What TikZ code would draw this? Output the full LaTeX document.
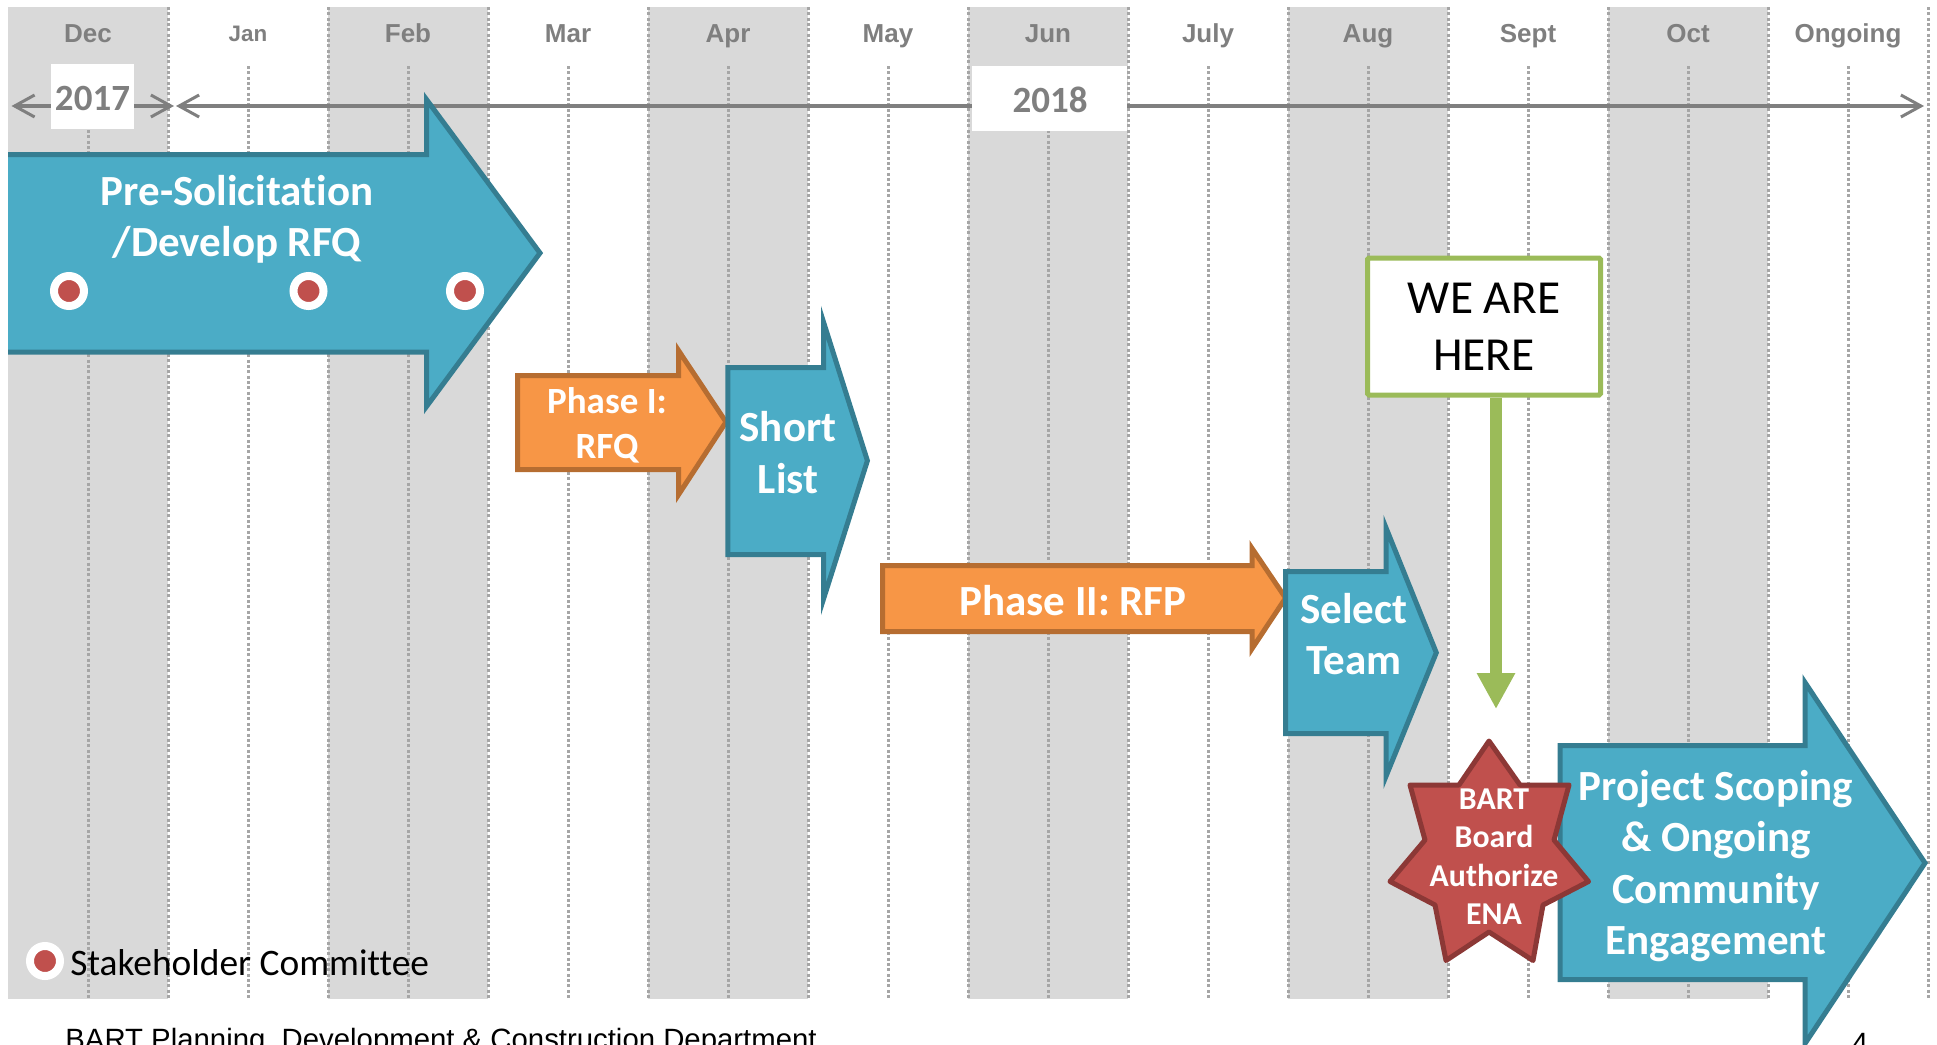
\documentclass[tikz,border=0pt]{standalone}
\usepackage{fontspec}
\setmainfont{Carlito}[Ligatures=CommonOff]
\newfontfamily\arialf{Liberation Sans}
\usetikzlibrary{arrows.meta}
\definecolor{bandgray}{HTML}{D9D9D9}
\definecolor{dotgray}{HTML}{A6A6A6}
\definecolor{txtgray}{HTML}{7F7F7F}
\definecolor{blueF}{HTML}{4BACC6}
\definecolor{blueD}{HTML}{357D91}
\definecolor{orangeF}{HTML}{F79646}
\definecolor{orangeD}{HTML}{B66D31}
\definecolor{redF}{HTML}{C0504D}
\definecolor{redD}{HTML}{8C3836}
\definecolor{greenF}{HTML}{9BBB59}
\tikzset{
  band/.style={fill=bandgray,draw=none},
  dotline/.style={draw=dotgray,line width=1.5pt,dash pattern=on 1.5pt off 1.17pt},
  month/.style={anchor=base,font=\arialf\bfseries\fontsize{13}{15}\selectfont,text=txtgray,inner sep=0pt},
  yearbox/.style={fill=white,text=txtgray,inner sep=0pt,font=\bfseries\fontsize{18.5}{22}\selectfont},
  tline/.style={draw=txtgray,line width=1.75pt,{Straight Barb[length=10pt,width=11pt,line width=1.5pt]}-{Straight Barb[length=10pt,width=11pt,line width=1.5pt]}},
  bluearrow/.style={fill=blueF,draw=blueD,line width=2.5pt,miter limit=12},
  orangearrow/.style={fill=orangeF,draw=orangeD,line width=2.5pt,miter limit=12},
  whitetext/.style={text=white,inner sep=0pt,align=center,font=\bfseries\fontsize{21.5}{25.75}\selectfont},
  smalltext/.style={text=white,inner sep=0pt,align=center,font=\bfseries\fontsize{18.5}{22.5}\selectfont},
  startext/.style={text=white,inner sep=0pt,align=center,font=\bfseries\fontsize{15.9}{19.25}\selectfont},
  sdot/.style={circle,fill=redF,draw=white,line width=4pt,minimum size=15pt,inner sep=0pt},
  herebox/.style={draw=greenF,fill=white,line width=2.5pt,rounded corners=0.75pt,minimum width=116.5pt,minimum height=68.5pt,inner sep=0pt,align=center,font=\fontsize{23.7}{28.5}\selectfont,text=black},
  herearrow/.style={draw=greenF,line width=6pt,-{Triangle[length=18pt,width=18pt]}},
}
\begin{document}
\begin{tikzpicture}[x=0.5pt,y=-0.5pt]
\useasboundingbox (0,0) rectangle (1937,1044);
% bands
\foreach \x in {8,328,648,968,1288,1608}{
  \fill[band] (\x,7) rectangle (\x+160,999);
}
% band edge dotted lines
\foreach \x in {168,328,488,648,808,968,1128,1288,1448,1608,1768,1928}{
  \draw[dotline] (\x,7) -- (\x,999);
}
% month centre dotted lines
\foreach \x in {88,248,408,568,728,888,1048,1208,1368,1528,1688,1848}{
  \draw[dotline] (\x,66) -- (\x,999);
}
% months
\node[month] (mdec) at (88,42) {Dec};
\node[month,font=\arialf\bfseries\fontsize{11.2}{13}\selectfont] (mjan) at (248,41) {Jan};
\node[month] (mfeb) at (408,42) {Feb};
\node[month] (mmar) at (568,42) {Mar};
\node[month] (mapr) at (728,42) {Apr};
\node[month] (mmay) at (888,42) {May};
\node[month] (mjun) at (1048,42) {Jun};
\node[month] (mjul) at (1208,42) {July};
\node[month] (maug) at (1368,42) {Aug};
\node[month] (msep) at (1528,42) {Sept};
\node[month] (moct) at (1688,42) {Oct};
\node[month] (mong) at (1848,42) {Ongoing};
% timeline
\coordinate (ta) at (11.5,106);
\coordinate (tb) at (174,106);
\coordinate (tc) at (176,106);
\coordinate (td) at (1924,106);
\draw[tline] (ta) -- (tb);
\draw[tline] (tc) -- (td);
\node[yearbox,minimum width=41.5pt,minimum height=32.5pt] (y17box) at (92.5,96.5) {};
\node[text=txtgray,inner sep=0pt,font=\bfseries\fontsize{18.5}{22}\selectfont] (y17) at (92.5,98.5) {2017};
\node[yearbox,minimum width=77.5pt,minimum height=32.5pt] (y18box) at (1049.5,98.5) {};
\node[text=txtgray,inner sep=0pt,font=\bfseries\fontsize{18.5}{22}\selectfont] (y18) at (1050,100) {2018};
% Pre-solicitation arrow
\fill[blueF] (8,154.5) -- (426.5,154.5) -- (426.5,99.5) -- (540,253) -- (426.5,406.5) -- (426.5,352) -- (8,352) -- cycle;
\draw[bluearrow,fill=none] (8,154.5) -- (426.5,154.5) -- (426.5,99.5) -- (540,253) -- (426.5,406.5) -- (426.5,352) -- (8,352);
\node[whitetext] (pre) at (237,219.5) {Pre-Solicitation\\/Develop RFQ};
\node[sdot] (d1) at (69,291) {};
\node[sdot] (d2) at (308.5,291) {};
\node[sdot] (d3) at (465,291) {};
% Phase I
\draw[orangearrow] (517.5,375.5) -- (678.5,375.5) -- (678.5,350.5) -- (726,422) -- (678.5,494.7) -- (678.5,469.5) -- (517.5,469.5) -- cycle;
\node[smalltext] (ph1) at (607,425.5) {Phase I:\\RFQ};
% Short list
\draw[bluearrow] (727.8,367.5) -- (823.5,367.5) -- (823.5,322) -- (867.4,460.7) -- (823.5,599) -- (823.5,554.5) -- (727.8,554.5) -- cycle;
\node[whitetext] (short) at (788,452.5) {Short\\List};
% Phase II
\draw[orangearrow] (882.5,565.5) -- (1252,565.5) -- (1252,548.3) -- (1285.6,598) -- (1252,648.7) -- (1252,631.5) -- (882.5,631.5) -- cycle;
\node[whitetext] (ph2) at (1073,601) {Phase II: RFP};
% Select team
\draw[bluearrow] (1285.5,571.5) -- (1386,571.5) -- (1386,527.8) -- (1436.3,652.7) -- (1386,776.2) -- (1386,733.5) -- (1285.5,733.5) -- cycle;
\node[whitetext] (sel) at (1353.7,634) {Select\\Team};
% Project arrow
\draw[bluearrow] (1560,745.5) -- (1805,745.5) -- (1805,682.5) -- (1925,863) -- (1805,1043.5) -- (1805,979.5) -- (1560,979.5) -- cycle;
\node[whitetext] (proj) at (1716,866) {Project Scoping\\\& Ongoing\\Community\\Engagement};
% star
\draw[fill=redF,draw=redD,line width=2.5pt,line join=round] (1489,741) -- (1520,785) -- (1569,785) -- (1554,840) -- (1588.5,881.5) -- (1543,905) -- (1533,960.5) -- (1489,932) -- (1446,960.5) -- (1435,905) -- (1390,881.5) -- (1425,840) -- (1410,785) -- (1459,785) -- cycle;
\node[startext] (star) at (1494,856.5) {BART\\Board\\Authorize\\ENA};
% WE ARE HERE
\node[herebox] (here) at (1484,326.5) {WE ARE\\HERE};
\coordinate (heretip) at (1496,709);
\draw[herearrow] (here.south -| heretip) -- (heretip);
% legend
\node[sdot] (d4) at (45,961) {};
\node[anchor=west,inner sep=0pt,text=black,font=\fontsize{18.7}{22}\selectfont] (leg) at (70,963) {Stakeholder Committee};
% footer
\node[anchor=base west,inner sep=0pt,text=black,font=\arialf\fontsize{14.67}{17}\selectfont] (foot) at (65,1049) {BART Planning, Development \& Construction Department};
\node[anchor=base,inner sep=0pt,text=black,font=\arialf\fontsize{14.67}{17}\selectfont] (pg) at (1860,1053) {4};
\end{tikzpicture}
\end{document}
